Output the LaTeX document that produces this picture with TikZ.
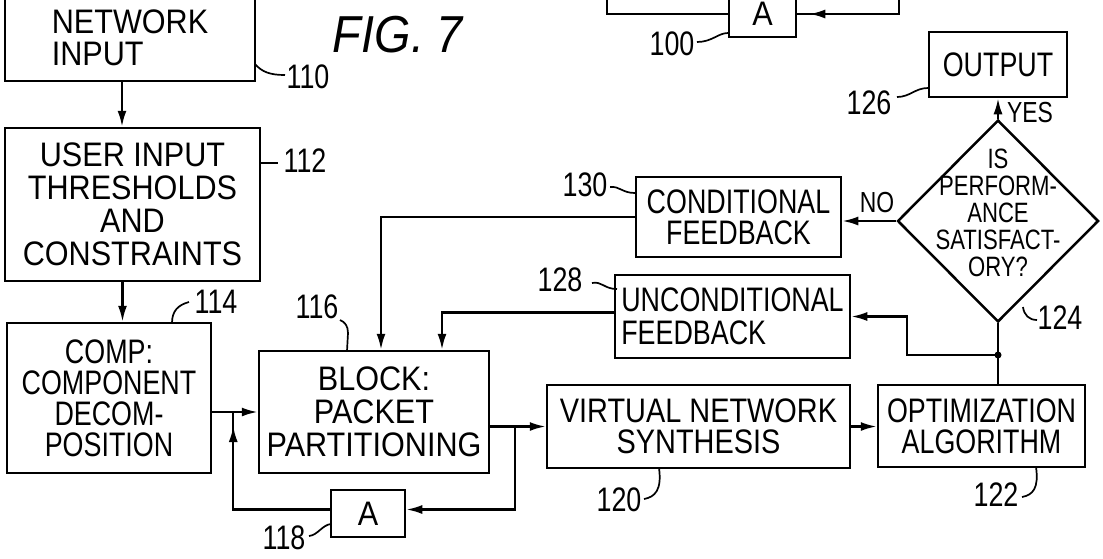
\documentclass[tikz,border=0pt]{standalone}
\usepackage{fontspec}
\setmainfont{Liberation Sans}[FakeStretch=0.9]
\newfontfamily\midfont{Liberation Sans}[FakeStretch=0.85]
\newfontfamily\narfont{Liberation Sans}[FakeStretch=0.79]
\usetikzlibrary{shapes.geometric,arrows.meta,calc,decorations.markings}
\begin{document}
\begin{tikzpicture}[x=1pt,y=-1pt,
  box/.style={draw, line width=2.5pt, rectangle, inner sep=0pt, align=center, font=\fontsize{34}{32}\selectfont},
  conn/.style={line width=2.3pt},
  arr/.style={conn, -{Latex[length=16pt,width=9pt]}},
  lead/.style={line width=1.7pt},
  num/.style={font=\narfont\fontsize{34}{34}\selectfont, inner sep=0pt},
  yn/.style={font=\narfont\fontsize{29}{29}\selectfont, inner sep=0pt},
  midarrow/.style={postaction={decorate, decoration={markings, mark=at position #1 with {\arrow{Latex[length=16pt,width=9pt]}}}}}
]
\useasboundingbox (0,0) rectangle (1103,558);
\fill[white] (0,0) rectangle (1103,558);
\clip (0,0) rectangle (1103,558);

% boxes
\node[box, minimum width=250pt, minimum height=87pt, align=left] (n110) at (130,37.5) {NETWORK\\INPUT};
\node[box, minimum width=255pt, minimum height=153pt, font=\fontsize{34}{33}\selectfont] (n112) at (132.5,204.5) {USER INPUT\\THRESHOLDS\\AND\\CONSTRAINTS};
\node[box, minimum width=204pt, minimum height=150pt, font=\narfont\fontsize{34}{31}\selectfont] (n114) at (109,398) {COMP:\\COMPONENT\\DECOM-\\POSITION};
\node[box, minimum width=230pt, minimum height=122pt, font=\fontsize{34}{33}\selectfont] (n116) at (374,412) {BLOCK:\\PACKET\\PARTITIONING};
\node[box, minimum width=74pt, minimum height=47pt] (n118) at (368,513.5) {A};
\node[box, minimum width=303pt, minimum height=83pt, font=\midfont\fontsize{34}{31}\selectfont] (n120) at (698.5,426.5) {VIRTUAL NETWORK\\SYNTHESIS};
\node[box, minimum width=207pt, minimum height=82pt, font=\narfont\fontsize{34}{31}\selectfont] (n122) at (981.5,426) {OPTIMIZATION\\ALGORITHM};
\node[box, minimum width=235pt, minimum height=83pt, align=left, font=\narfont\fontsize{34}{33}\selectfont] (n128) at (732.5,316.5) {UNCONDITIONAL\\FEEDBACK};
\node[box, minimum width=205pt, minimum height=80pt, font=\narfont\fontsize{34}{31}\selectfont] (n130) at (738.5,217) {CONDITIONAL\\FEEDBACK};
\node[box, minimum width=138pt, minimum height=65pt, font=\narfont\fontsize{34}{34}\selectfont] (n126) at (998,64.5) {OUTPUT};
\node[box, minimum width=67pt, minimum height=46pt] (n100) at (762.5,14) {A};
\node[draw, diamond, line width=2.5pt, minimum width=201pt, minimum height=202pt, inner sep=0pt,
  label={[font=\narfont\fontsize{28}{27}\selectfont, align=center, yshift=8pt]center:IS\\PERFORM-\\ANCE\\SATISFACT-\\ORY?}] (n124) at (998,221) {};

% connectors
\draw[arr] ([xshift=-8pt]n110.south) -- ([xshift=-8pt]n110.south |- n112.north);
\draw[arr] ([xshift=-10pt]n112.south) -- ([xshift=-10pt]n112.south |- n114.north);
\draw[arr] (n114.east |- n116.west) -- (n116.west);
\coordinate (j1) at ($(n114.east |- n116.west)+(21,0)$);
\draw[conn, midarrow=-14pt] ([yshift=4pt]n118.west) -| (j1);
\draw[arr] (n116.east |- n120.west) -- (n120.west);
\coordinate (j2) at ($(n116.east |- n120.west)+(25,0)$);
\draw[arr] (j2) |- ([yshift=4pt]n118.east);
\draw[arr] (n120.east) -- (n120.east -| n122.west);
\coordinate (jd) at (n124.south |- 0,355);
\draw[conn] (n124.south) -- (n124.south |- n122.north);
\fill (jd) circle (3.5pt);
\coordinate (fb) at ($(n128.east)+(56,0)$);
\draw[arr] (jd) -| (fb) -- (n128.east);
\draw[arr] (n124.west) -- (n124.west -| n130.east);
\draw[arr] (n124.north) -- (n126.south);
\draw[arr] (n130.west) -| ([xshift=7pt]n116.north);
\draw[arr] ([yshift=4pt]n128.west) -| ([xshift=68pt]n116.north);
\coordinate (tl) at (607,-10);
\coordinate (tr) at (899,-10);
\draw[conn] (tl) |- (n100.west);
\draw[conn, midarrow=-12pt] (tr) |- (n100.east);

% texts
\node[font=\itshape\fontsize{52}{52}\selectfont, inner sep=0pt] (fig) at (398,35) {FIG. 7};
\node[yn] (yes) at (1030,113) {YES};
\node[yn] (no) at (877,203) {NO};

% reference numerals and leaders
\node[num] (l110) at (308,77) {110};
\draw[lead] (255,64) .. controls (262,72) and (270,75) .. (285,75);
\node[num] (l112) at (305,161) {112};
\draw[lead] (261,163) -- (278,163);
\node[num] (l114) at (216,302) {114};
\draw[lead] (172,323) .. controls (172,311) and (178,305) .. (189,302);
\node[num] (l116) at (317,307) {116};
\draw[lead] (347,351) -- (348,333) .. controls (348,326) and (345,322) .. (340,320);
\node[num] (l118) at (284,538) {118};
\draw[lead] (331,524) .. controls (322,525) and (318,535) .. (309,536);
\node[num] (l120) at (619,500) {120};
\draw[lead] (659,468) .. controls (662,490) and (655,497) .. (644,499);
\node[num] (l122) at (996,495) {122};
\draw[lead] (1036,467) .. controls (1039,488) and (1033,495) .. (1022,497);
\node[num] (l124) at (1060,318) {124};
\draw[lead] (1023,307) .. controls (1024,315) and (1029,320) .. (1037,320);
\node[num] (l126) at (869,103) {126};
\draw[lead] (928,88) .. controls (915,88) and (910,97) .. (897,97);
\node[num] (l128) at (560,280) {128};
\draw[lead] (617,289) .. controls (604,289) and (602,281) .. (592,283);
\node[num] (l130) at (585,185) {130};
\draw[lead] (635,193) .. controls (622,193) and (620,186) .. (610,187);
\node[num] (l100) at (672,44) {100};
\draw[lead] (728,33) .. controls (718,33) and (712,42) .. (697,42);
\end{tikzpicture}
\end{document}
